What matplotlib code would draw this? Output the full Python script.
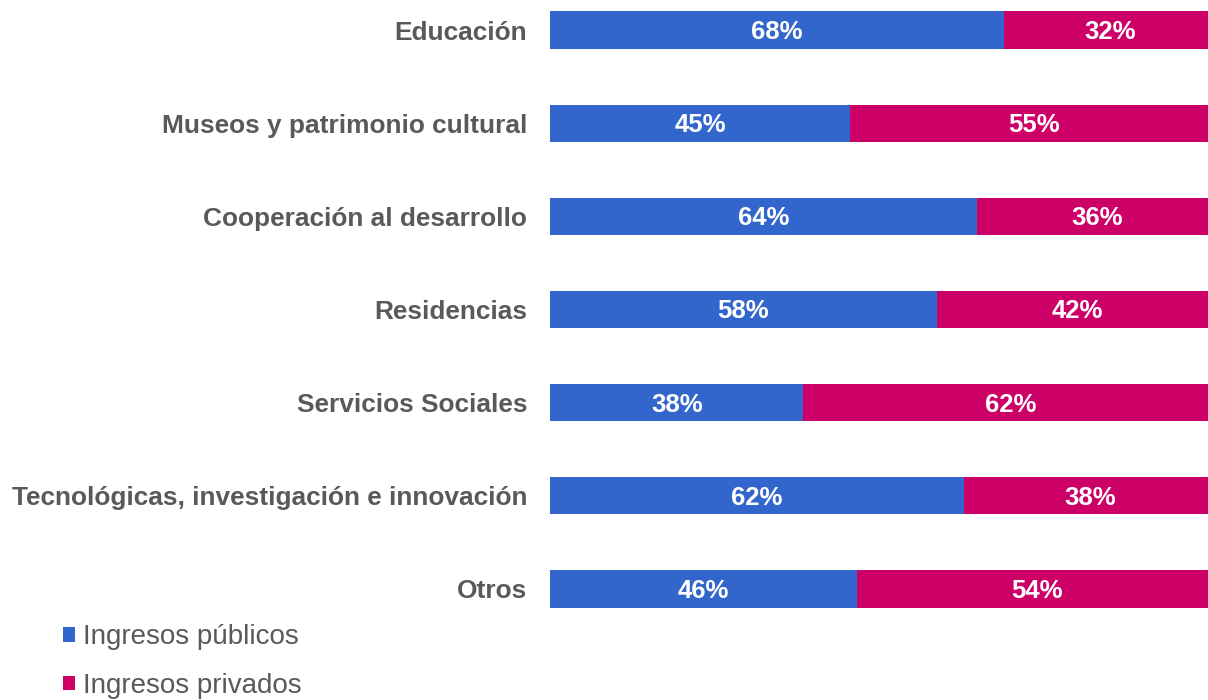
import matplotlib.pyplot as plt

# Data
categorias = [
    'Educación',
    'Museos y patrimonio cultural',
    'Cooperación al desarrollo',
    'Residencias',
    'Servicios Sociales',
    'Tecnológicas, investigación e innovación',
    'Otros',
]
publicos = [68, 45, 64, 58, 38, 62, 46]
privados = [32, 55, 36, 42, 62, 38, 54]

AZUL = '#3366CC'
ROSA = '#CC0066'
GRIS = '#595959'


def main():
    fig = plt.figure(figsize=(12.08, 7.0), dpi=100)
    ax = fig.add_axes([550 / 1208, 0, 1 - 550 / 1208, 1])

    y = list(range(len(categorias)))
    ax.barh(y, publicos, height=0.4, color=AZUL, label='Ingresos públicos')
    ax.barh(y, privados, left=publicos, height=0.4, color=ROSA, label='Ingresos privados')

    # porcentajes dentro de las barras
    fuente_num = ['Liberation Sans Narrow', 'Liberation Sans', 'DejaVu Sans']
    for i in y:
        ax.text(publicos[i] / 2, i + 0.02, f'{publicos[i]}%', ha='center', va='center',
                color='white', fontsize=18.5, fontweight='bold', family=fuente_num)
        ax.text(publicos[i] + privados[i] / 2, i + 0.02, f'{privados[i]}%', ha='center',
                va='center', color='white', fontsize=18.5, fontweight='bold', family=fuente_num)

    # la barra completa (100%) mide ~667 px y queda recortada en el borde derecho
    ax.set_xlim(0, 100 * 658 / 667)
    # pixel 30 -> fila 0, pixel 589 -> fila 6
    paso = (589 - 30) / 6
    ax.set_ylim(6 + (700 - 589) / paso, -30 / paso)

    ax.set_yticks(y)
    ax.set_yticklabels(categorias, fontsize=18.9, fontweight='bold', color=GRIS,
                       family=['Liberation Sans', 'DejaVu Sans'])
    ax.tick_params(axis='y', length=0, pad=16.5)
    ax.set_xticks([])
    for s in ax.spines.values():
        s.set_visible(False)

    # leyenda
    fig.legend(loc='lower left', bbox_to_anchor=(63 / 1208, 1 / 700), frameon=False,
               prop={'family': ['Liberation Sans', 'DejaVu Sans'], 'size': 20},
               labelcolor=GRIS, handlelength=0.43, handleheight=0.43,
               handletextpad=0.29, labelspacing=0.81, borderaxespad=0, borderpad=0)

    fig.savefig('out.png', dpi=100)


if __name__ == "__main__":
    main()
